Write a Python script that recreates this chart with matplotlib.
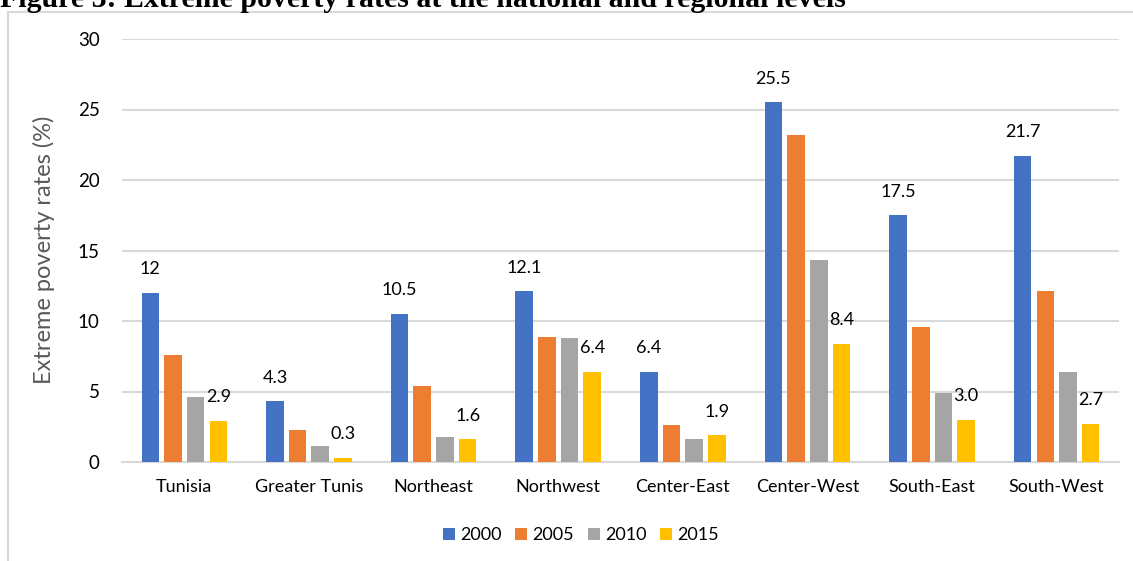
import numpy as np
import matplotlib
matplotlib.use("Agg")
import matplotlib.pyplot as plt
from matplotlib.patches import Rectangle

regions = ["Tunisia", "Greater Tunis", "Northeast", "Northwest",
           "Center-East", "Center-West", "South-East", "South-West"]
years = ["2000", "2005", "2010", "2015"]
rate_2000 = [12.0, 4.3, 10.5, 12.1, 6.4, 25.5, 17.5, 21.7]
rate_2005 = [7.6, 2.3, 5.4, 8.9, 2.6, 23.2, 9.6, 12.1]
rate_2010 = [4.6, 1.1, 1.8, 8.8, 1.6, 14.3, 4.9, 6.4]
rate_2015 = [2.9, 0.3, 1.6, 6.4, 1.9, 8.4, 3.0, 2.7]
colors = ["#4472C4", "#ED7D31", "#A5A5A5", "#FFC000"]

plt.rcParams["font.family"] = ["Lato", "DejaVu Sans"]

W, H = 1133, 561
fig = plt.figure(figsize=(W / 100, H / 100), dpi=100)

# outer chart frame, cut by the page edge on the right and bottom
fig.patches.append(Rectangle((8 / W, -0.05), 1.2, (H - 12) / H + 0.05,
                             transform=fig.transFigure, fill=False,
                             edgecolor="#d9d9d9", linewidth=1.5))

fig.text(0.0, 1 - 7 / H,
         "Figure 3: Extreme poverty rates at the national and regional levels",
         fontfamily="Liberation Serif", fontweight="bold", fontsize=21.5,
         ha="left", va="baseline")

ax = fig.add_axes([122 / W, (H - 462) / H, (1119 - 122) / W, (462 - 39) / H])

x = np.arange(len(regions))
step = 0.182
width = 0.141
series = [rate_2000, rate_2005, rate_2010, rate_2015]
bars = []
for i, (vals, c, yr) in enumerate(zip(series, colors, years)):
    b = ax.bar(x + (i - 1.5) * step, vals, width=width, color=c, label=yr,
               zorder=3)
    bars.append(b)

# value labels only for the first and last year
for rect, v in zip(bars[0], rate_2000):
    ax.annotate(f"{v:g}", (rect.get_x() + rect.get_width() / 2, v),
                xytext=(0, 17), textcoords="offset points",
                ha="center", va="center", fontsize=13, color="#000000")
for rect, v in zip(bars[3], rate_2015):
    ax.annotate(f"{v:.1f}", (rect.get_x() + rect.get_width() / 2, v),
                xytext=(0, 17), textcoords="offset points",
                ha="center", va="center", fontsize=13, color="#000000")

ax.set_xlim(-0.5, len(regions) - 0.5)
ax.set_ylim(0, 30)
ax.set_yticks(range(0, 31, 5))
ax.set_xticks(x)
ax.set_xticklabels(regions, fontsize=13)
ax.tick_params(axis="y", length=0, pad=16, labelsize=13.5)
ax.tick_params(axis="x", length=0, pad=12)
ax.yaxis.grid(True, color="#d9d9d9", linewidth=1.5, zorder=0)
ax.set_axisbelow(True)
for s in ["top", "right", "left"]:
    ax.spines[s].set_visible(False)
ax.spines["bottom"].set_color("#d9d9d9")
ax.spines["bottom"].set_linewidth(1.5)

ax.set_ylabel("Extreme poverty rates (%)", fontsize=17, color="#595959")
ax.yaxis.set_label_coords(-(122 - 55) / (1119 - 122), (462 - 250) / (462 - 39))

fig.legend(loc="center", bbox_to_anchor=(581 / W, 1 - 535 / H), ncol=4,
           frameon=False, fontsize=13, handlelength=0.65, handleheight=0.65,
           handletextpad=0.3, columnspacing=0.75)

fig.savefig("out.png", dpi=100)
